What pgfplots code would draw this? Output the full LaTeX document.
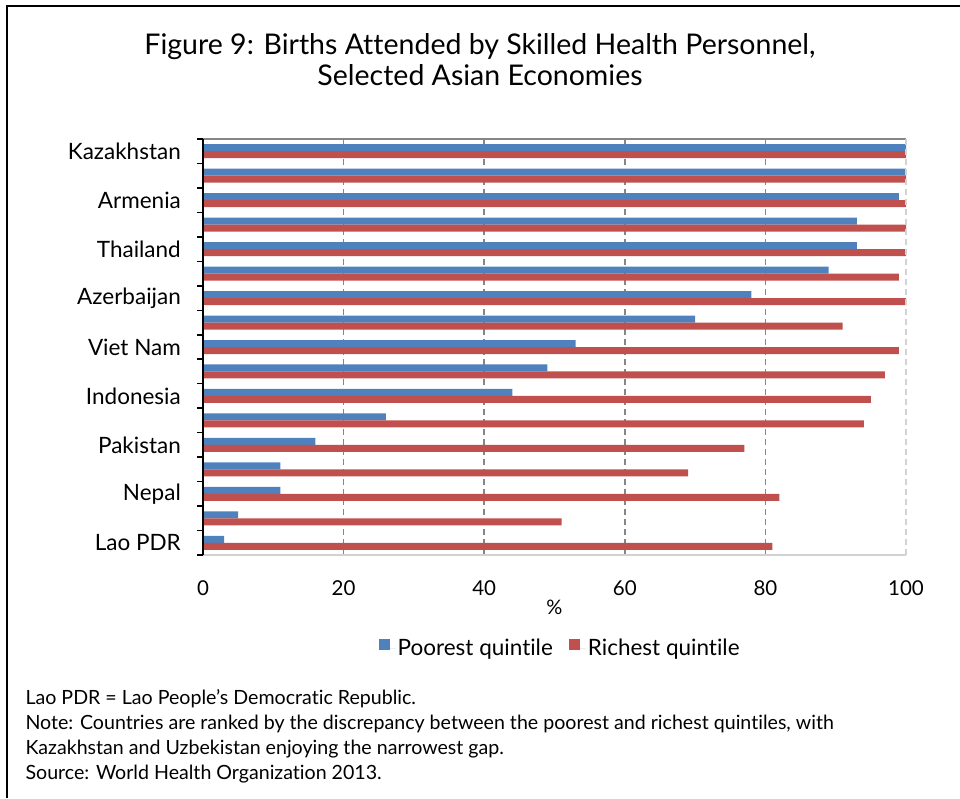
\documentclass[border=0pt]{standalone}
\usepackage{pgfplots}
\pgfplotsset{compat=1.18}
\usepackage{pgfplotstable}
\usepackage{fontspec}
\setmainfont{Lato}[Ligatures=NoCommon]

\definecolor{poorblue}{RGB}{79,129,189}
\definecolor{richred}{RGB}{192,80,77}
\definecolor{gridgray}{RGB}{134,134,134}
\definecolor{edgegray}{RGB}{210,210,210}

% row 1 = top of chart; unlabeled rows are the economies between the named ones
\pgfplotstableread{
row poorest richest
1  100 100
2  100 100
3  99  100
4  93  100
5  93  100
6  89  99
7  78  100
8  70  91
9  53  99
10 49  97
11 44  95
12 26  94
13 16  77
14 11  69
15 11  82
16 5   51
17 3   81
}\births

\begin{document}
\begin{tikzpicture}[x=1pt,y=1pt]
\path[use as bounding box] (0,0) rectangle (960,798);
\draw[line width=2.5pt] (7,0) -- (7,792) -- (960,792);

\node[font=\fontsize{28.5}{31}\selectfont, align=center] at (480,738)
  {Figure 9: Births Attended by Skilled Health Personnel,\\Selected Asian Economies};

\begin{axis}[
  at={(203pt,243pt)}, anchor=south west,
  scale only axis, width=703pt, height=416pt,
  xbar, bar width=7pt,
  xmin=0, xmax=100, ymin=0.5, ymax=17.5, y dir=reverse,
  xtick={0,20,...,100},
  minor xtick={20,40,60,80},
  ytick={1,...,17},
  yticklabels={Kazakhstan,,Armenia,,Thailand,,Azerbaijan,,Viet Nam,,Indonesia,,Pakistan,,Nepal,,Lao PDR},
  minor ytick={0.5,1.5,...,17.5},
  major tick length=0pt, minor tick length=6pt,
  tick align=outside, tick pos=left,
  minor tick style={black, line width=1.5pt},
  xminorgrids,
  minor x grid style={gridgray, line width=1.5pt, dash pattern=on 6pt off 4pt},
  minor x tick style={draw=none},
  axis line style={draw=none},
  /pgf/number format/assume math mode=true,
  xticklabel style={font=\fontsize{20.5}{24}\selectfont, inner sep=0pt, anchor=north, yshift=-25pt},
  yticklabel style={font=\fontsize{22.5}{26}\selectfont, inner sep=0pt, xshift=-22pt},
  xlabel={\%},
  xlabel style={font=\fontsize{20}{24}\selectfont, at={(axis description cs:0.5,0)}, anchor=center, yshift=-52pt},
  legend style={draw=none, at={(axis description cs:0.508,-0.224)}, anchor=center,
    font=\fontsize{22.5}{26}\selectfont, legend columns=2,
    /tikz/every even column/.append style={column sep=14pt}},
  legend image code/.code={\fill[#1] (0pt,-2pt) rectangle (11pt,9pt); \path (0pt,0pt) -- (17pt,0pt);},
  clip=false,
]
\addplot[fill=poorblue, draw=none, bar shift=3.5pt] table[x=poorest, y=row] {\births};
\addplot[fill=richred, draw=none, bar shift=-3.5pt] table[x=richest, y=row] {\births};
\legend{Poorest quintile, Richest quintile}
\draw[gridgray, line width=1.5pt] (rel axis cs:0,1) -- (rel axis cs:1,1);
\draw[edgegray, line width=2pt] (rel axis cs:0,0) -- (rel axis cs:1,0);
\draw[edgegray, line width=1.5pt, dash pattern=on 6pt off 4pt] (rel axis cs:1,0) -- (rel axis cs:1,1);
\draw[black, line width=2pt] (rel axis cs:0,0) -- (rel axis cs:0,1);
\end{axis}

\node[anchor=north west, align=left, font=\fontsize{19.6}{25}\selectfont] at (22,112)
  {Lao PDR = Lao People’s Democratic Republic.\\
   Note: Countries are ranked by the discrepancy between the poorest and richest quintiles, with\\
   Kazakhstan and Uzbekistan enjoying the narrowest gap.\\
   Source: World Health Organization 2013.};
\end{tikzpicture}
\end{document}
